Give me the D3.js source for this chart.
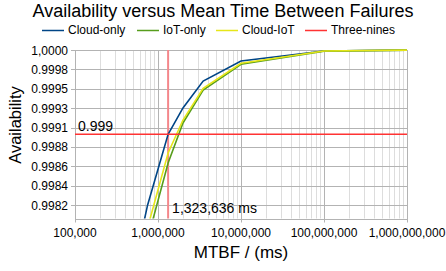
<!DOCTYPE html>
<html>
<head>
    <meta charset="UTF-8">
    <title>Availability versus MTBF</title>
    <script src="https://d3js.org/d3.v7.min.js"></script>
    <style>
        body { margin: 0; background: #fff; }
        svg { font-family: "Liberation Sans", Arial, sans-serif; }
        .grid-major { stroke: #b3b3b3; stroke-width: 1px; }
        .grid-minor { stroke: #dddddd; stroke-width: 1px; }
        .tick-label { font-size: 12px; fill: #000; }
    </style>
</head>
<body>
    <div id="chart"></div>
    <script>
        // MTBF sample points (ms)
        const mtbf = [600000, 750000, 1323636, 2000000, 3500000, 10000000, 100000000, 1000000000];
        // availability per series
        const cloudOnly = [0.997725, 0.998161, 0.999000, 0.999312, 0.999632, 0.999870, 0.999988, 0.999999];
        const iotOnly   = [0.997300, 0.997754, 0.998659, 0.999134, 0.999525, 0.999830, 0.999987, 0.999999];
        const cloudIot  = [0.997450, 0.997892, 0.998777, 0.999169, 0.999545, 0.999842, 0.999988, 0.999999];
        const threeNines = 0.999;
        const crossMtbf = 1323636;

        const xTicks = [1e5, 1e6, 1e7, 1e8, 1e9];
        const yTicks = [1.0, 0.99977, 0.99954, 0.99931, 0.99908, 0.99885, 0.99862, 0.99839, 0.99816];
        const yTickLabels = ["1,0000", "0.9998", "0.9995", "0.9993", "0.9991", "0.9988", "0.9986", "0.9984", "0.9982"];

        const series = [
            {name: "Cloud-only", values: cloudOnly, color: "#004586"},
            {name: "IoT-only", values: iotOnly, color: "#579d1c"},
            {name: "Cloud-IoT", values: cloudIot, color: "#e6e619"}
        ];

        const width = 446, height = 271;
        const margin = {top: 50, right: 39, bottom: 52.5, left: 75};

        const svg = d3.select("#chart")
            .append("svg")
            .attr("width", width)
            .attr("height", height);

        const x = d3.scaleLog()
            .domain([1e5, 1e9])
            .range([margin.left, width - margin.right]);
        const y = d3.scaleLinear()
            .domain([0.998, 1.0])
            .range([height - margin.bottom, margin.top]);

        // minor vertical grid
        const minor = [];
        for (let e = 5; e < 9; e++) {
            for (let k = 2; k <= 9; k++) minor.push(k * Math.pow(10, e));
        }
        svg.append("g").selectAll("line")
            .data(minor)
            .join("line")
            .attr("class", "grid-minor")
            .attr("x1", d => Math.round(x(d)) + 0.5)
            .attr("x2", d => Math.round(x(d)) + 0.5)
            .attr("y1", y.range()[1])
            .attr("y2", y.range()[0]);

        // major vertical grid
        svg.append("g").selectAll("line")
            .data(xTicks)
            .join("line")
            .attr("class", "grid-major")
            .attr("x1", d => Math.round(x(d)) + 0.5)
            .attr("x2", d => Math.round(x(d)) + 0.5)
            .attr("y1", y.range()[1])
            .attr("y2", y.range()[0] + 4);

        // horizontal grid
        svg.append("g").selectAll("line")
            .data(yTicks)
            .join("line")
            .attr("class", "grid-major")
            .attr("x1", x.range()[0] - 4)
            .attr("x2", x.range()[1])
            .attr("y1", d => Math.round(y(d)) + 0.5)
            .attr("y2", d => Math.round(y(d)) + 0.5);

        // bottom axis line
        svg.append("line")
            .attr("class", "grid-major")
            .attr("x1", x.range()[0]).attr("x2", x.range()[1])
            .attr("y1", Math.round(y.range()[0]) + 0.5).attr("y2", Math.round(y.range()[0]) + 0.5);

        // tick labels
        svg.append("g").selectAll("text")
            .data(yTicks)
            .join("text")
            .attr("class", "tick-label")
            .attr("x", x.range()[0] - 7)
            .attr("y", d => y(d) + 4.5)
            .attr("text-anchor", "end")
            .text((d, i) => yTickLabels[i]);

        svg.append("g").selectAll("text")
            .data(xTicks)
            .join("text")
            .attr("class", "tick-label")
            .attr("x", d => x(d))
            .attr("y", 237)
            .attr("text-anchor", "middle")
            .text(d => d3.format(",")(d));

        svg.append("clipPath").attr("id", "plot")
            .append("rect")
            .attr("x", x.range()[0])
            .attr("y", y.range()[1] - 2)
            .attr("width", x.range()[1] - x.range()[0] + 2)
            .attr("height", y.range()[0] - y.range()[1] + 2);

        // vertical three-nines crossing line
        svg.append("line")
            .attr("x1", x(crossMtbf)).attr("x2", x(crossMtbf))
            .attr("y1", y.range()[1]).attr("y2", y.range()[0])
            .attr("stroke", "#f4878b")
            .attr("stroke-width", 2);

        // series lines
        const line = d3.line()
            .x((d, i) => x(mtbf[i]))
            .y(d => y(d));

        svg.append("g")
            .attr("clip-path", "url(#plot)")
            .selectAll("path")
            .data(series)
            .join("path")
            .attr("fill", "none")
            .attr("stroke", d => d.color)
            .attr("stroke-width", 1.6)
            .attr("d", d => line(d.values));

        // horizontal three-nines line
        svg.append("line")
            .attr("x1", x.range()[0]).attr("x2", x.range()[1])
            .attr("y1", y(threeNines)).attr("y2", y(threeNines))
            .attr("stroke", "#ff3333")
            .attr("stroke-width", 1.3);

        // annotations
        svg.append("text")
            .attr("x", 78)
            .attr("y", 131)
            .attr("font-size", "14px")
            .text("0.999");
        svg.append("text")
            .attr("x", x(crossMtbf) + 4)
            .attr("y", 213)
            .attr("font-size", "14px")
            .text(d3.format(",")(crossMtbf) + " ms");

        // titles
        svg.append("text")
            .attr("x", 223)
            .attr("y", 16.5)
            .attr("text-anchor", "middle")
            .attr("font-size", "18px")
            .text("Availability versus Mean Time Between Failures");

        svg.append("text")
            .attr("x", 241)
            .attr("y", 258)
            .attr("text-anchor", "middle")
            .attr("font-size", "17px")
            .text("MTBF / (ms)");

        svg.append("text")
            .attr("transform", "translate(21,125) rotate(-90)")
            .attr("text-anchor", "middle")
            .attr("font-size", "16.5px")
            .text("Availability");

        // legend
        const legendItems = [
            {name: "Cloud-only", color: "#004586", x: 42},
            {name: "IoT-only", color: "#579d1c", x: 137},
            {name: "Cloud-IoT", color: "#e6e619", x: 216},
            {name: "Three-nines", color: "#ff3333", x: 305}
        ];
        const legend = svg.append("g").selectAll("g")
            .data(legendItems)
            .join("g")
            .attr("transform", d => `translate(${d.x},30)`);
        legend.append("line")
            .attr("x1", 0).attr("x2", 22)
            .attr("y1", 0.5).attr("y2", 0.5)
            .attr("stroke", d => d.color)
            .attr("stroke-width", 1.5);
        legend.append("text")
            .attr("x", 26)
            .attr("y", 4)
            .attr("font-size", "12px")
            .text(d => d.name);
    </script>
</body>
</html>
